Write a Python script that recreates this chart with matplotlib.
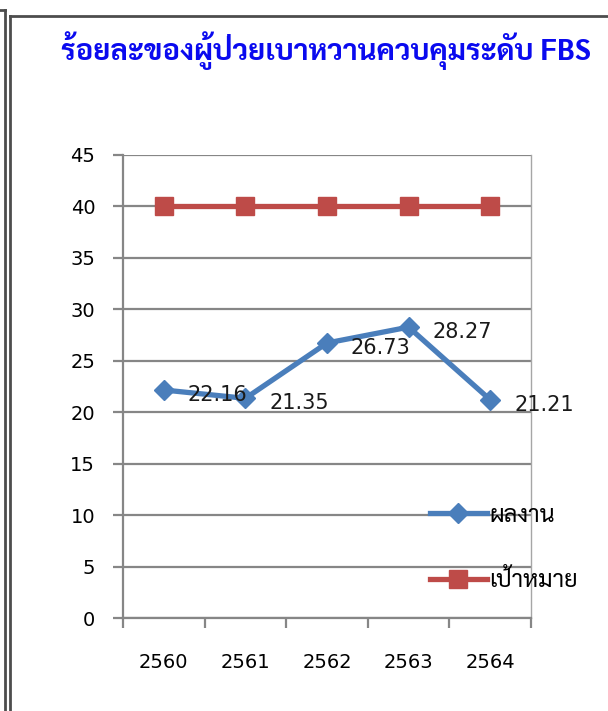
import matplotlib
matplotlib.use("Agg")
import matplotlib.pyplot as plt
import matplotlib.font_manager as fm
from matplotlib.ft2font import FT2Font
from matplotlib.lines import Line2D

years = ["2560", "2561", "2562", "2563", "2564"]
result = [22.16, 21.35, 26.73, 28.27, 21.21]
target = [40, 40, 40, 40, 40]
y_ticks = [0, 5, 10, 15, 20, 25, 30, 35, 40, 45]
title = "ร้อยละของผู้ป่วยเบาหวานควบคุมระดับ FBS"
legend_labels = ["ผลงาน", "เป้าหมาย"]


def pick_thai_font():
    # looped Thai faces look closest to Tahoma; take one that has a bold face
    weights = {}
    for f in fm.fontManager.ttflist:
        try:
            cmap = FT2Font(f.fname).get_charmap()
        except Exception:
            continue
        if 0x0E01 in cmap and 0x0E23 in cmap and f.style == "normal":
            weights.setdefault(f.name, set()).add(f.weight)
    for name in ["Noto Sans Thai Looped", "Sarabun", "Loma", "Tahoma", "Noto Sans Thai"]:
        if name in weights and 700 in weights[name]:
            return name
    for name, w in sorted(weights.items()):
        if 700 in w:
            return name
    return "DejaVu Sans"


thai = pick_thai_font()
plt.rcParams['font.family'] = ["DejaVu Sans", thai]

W, H = 608, 711
fig = plt.figure(figsize=(W / 100, H / 100), dpi=100)
fig.patch.set_facecolor("white")

# frame lines around the chart
def px_line(x0, y0, x1, y1, lw=2, color="#4d4d4d"):
    fig.add_artist(Line2D([x0 / W, x1 / W], [1 - y0 / H, 1 - y1 / H],
                          lw=lw, color=color, transform=fig.transFigure))

px_line(0, 10, 5, 10)
px_line(5, 10, 5, H)
px_line(9.5, 16, W, 16)
px_line(9.5, 16, 9.5, H)

ax = fig.add_axes([123 / W, 1 - 618 / H, 408 / W, 463 / H])

x = list(range(len(years)))
blue = "#4a7ebb"
red = "#be4b48"
grey = "#868686"

l1, = ax.plot(x, result, color=blue, lw=3.8, marker="D", markersize=10,
              label=legend_labels[0], zorder=3)
l2, = ax.plot(x, target, color=red, lw=3.8, marker="s", markersize=13,
              label=legend_labels[1], zorder=3)

for i, v in zip(x, result):
    ax.annotate(f"{v:.2f}", (i, v), xytext=(24, -5), textcoords="offset pixels",
                ha="left", va="center", fontsize=15, color="#1a1a1a", zorder=4)

ax.set_xlim(-0.5, len(years) - 0.5)
ax.set_ylim(0, 45)
ax.set_yticks(y_ticks)
ax.yaxis.grid(True, color=grey, lw=1.6)
ax.set_axisbelow(True)

ax.set_xticks([i - 0.5 for i in range(len(years) + 1)])
ax.set_xticklabels([])
ax.set_xticks(x, minor=True)
ax.set_xticklabels(years, minor=True)
ax.tick_params(axis="x", which="major", direction="out", length=7, width=1.6, color=grey)
ax.tick_params(axis="x", which="minor", length=0, pad=25, labelsize=14)
ax.tick_params(axis="y", direction="out", length=7, width=1.6, color=grey, pad=13, labelsize=14)

for s in ["left", "bottom"]:
    ax.spines[s].set_color(grey)
    ax.spines[s].set_linewidth(1.6)
ax.spines["top"].set_visible(False)
ax.spines["right"].set_color("#a6a6a6")
ax.spines["right"].set_linewidth(1)

fig.text(326 / W, 1 - 51 / H, title, ha="center", va="center", fontsize=21,
         fontweight="bold", color="#0a0aef", family=[thai, "DejaVu Sans"])

fig.legend(handles=[l1, l2], labels=legend_labels, loc="upper left",
           bbox_to_anchor=(430 / W, 1 - 504 / H), bbox_transform=fig.transFigure,
           frameon=False, handlelength=2.4, handletextpad=0.1,
           labelspacing=1.8, borderpad=0, borderaxespad=0,
           prop={"family": [thai, "DejaVu Sans"], "size": 17})

fig.savefig("out.png", dpi=100)
